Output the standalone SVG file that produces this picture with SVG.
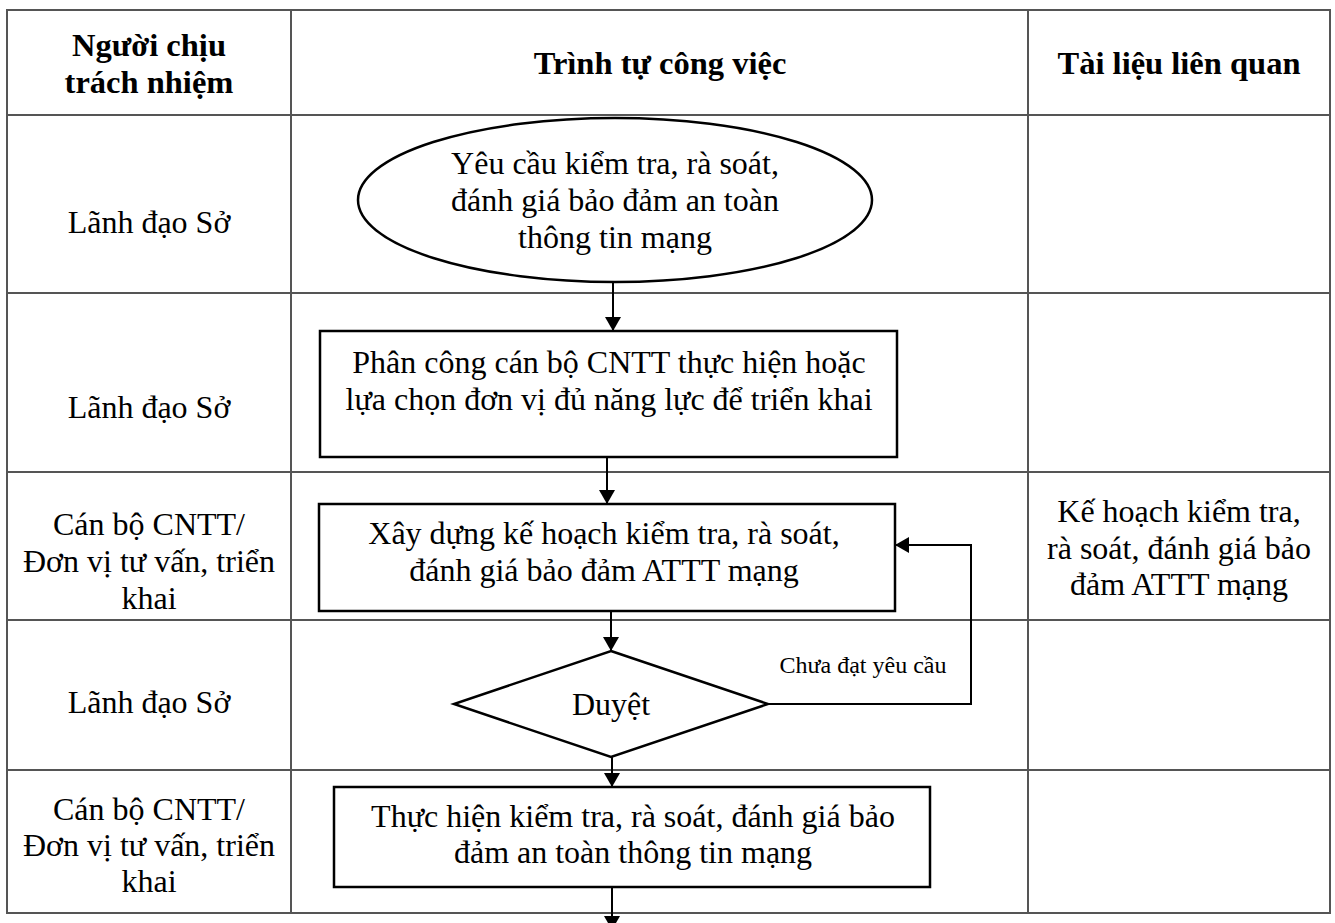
<svg xmlns="http://www.w3.org/2000/svg" width="1335" height="923" viewBox="0 0 1335 923">
<defs>
<style>
.grid{stroke:#555;stroke-width:2;fill:none}
.shape{stroke:#000;stroke-width:2.5;fill:#fff}
.conn{stroke:#000;stroke-width:2;fill:none}
text{font-family:"Liberation Serif","Times New Roman",serif;fill:#000;text-anchor:middle}
.t{font-size:32px}
.h{font-size:32.5px;font-weight:bold}
.s{font-size:24px}
</style>
<marker id="arr" markerUnits="userSpaceOnUse" markerWidth="16" markerHeight="16" refX="14" refY="8" orient="auto">
<path d="M0,0 L14,8 L0,16 Z" fill="#000"/>
</marker>
</defs>
<rect width="1335" height="923" fill="#fff"/>
<g id="table">
<rect class="grid" x="7" y="10" width="1323" height="903"/>
<line class="grid" x1="291" y1="10" x2="291" y2="913"/>
<line class="grid" x1="1028" y1="10" x2="1028" y2="913"/>
<line class="grid" x1="7" y1="115" x2="1330" y2="115"/>
<line class="grid" x1="7" y1="293" x2="1330" y2="293"/>
<line class="grid" x1="7" y1="472" x2="1330" y2="472"/>
<line class="grid" x1="7" y1="620" x2="1330" y2="620"/>
<line class="grid" x1="7" y1="770" x2="1330" y2="770"/>
</g>
<g id="headers">
<text class="h" x="149" y="56">Người chịu</text>
<text class="h" x="149" y="93">trách nhiệm</text>
<text class="h" x="660" y="74">Trình tự công việc</text>
<text class="h" x="1179" y="74">Tài liệu liên quan</text>
</g>
<g id="roles">
<text class="t" x="149" y="233">Lãnh đạo Sở</text>
<text class="t" x="149" y="418">Lãnh đạo Sở</text>
<text class="t" x="149" y="535">Cán bộ CNTT/</text>
<text class="t" x="149" y="572">Đơn vị tư vấn, triển</text>
<text class="t" x="149" y="609">khai</text>
<text class="t" x="149" y="713">Lãnh đạo Sở</text>
<text class="t" x="149" y="820">Cán bộ CNTT/</text>
<text class="t" x="149" y="856">Đơn vị tư vấn, triển</text>
<text class="t" x="149" y="892">khai</text>
</g>
<g id="docs">
<text class="t" x="1179" y="522">Kế hoạch kiểm tra,</text>
<text class="t" x="1179" y="559">rà soát, đánh giá bảo</text>
<text class="t" x="1179" y="595">đảm ATTT mạng</text>
</g>
<g id="connectors">
<line class="conn" x1="613" y1="282" x2="613" y2="331" marker-end="url(#arr)"/>
<line class="conn" x1="607" y1="457" x2="607" y2="504" marker-end="url(#arr)"/>
<line class="conn" x1="611" y1="611" x2="611" y2="651" marker-end="url(#arr)"/>
<polyline class="conn" points="768,704 971,704 971,545 895,545" marker-end="url(#arr)"/>
<line class="conn" x1="612" y1="757" x2="612" y2="787" marker-end="url(#arr)"/>
<line class="conn" x1="612" y1="887" x2="612" y2="930" marker-end="url(#arr)"/>
<text class="s" x="863" y="673">Chưa đạt yêu cầu</text>
</g>
<g id="n1">
<ellipse class="shape" cx="615" cy="200" rx="257" ry="82"/>
<text class="t" x="615" y="174">Yêu cầu kiểm tra, rà soát,</text>
<text class="t" x="615" y="211">đánh giá bảo đảm an toàn</text>
<text class="t" x="615" y="248">thông tin mạng</text>
</g>
<g id="n2">
<rect class="shape" x="320" y="331" width="577" height="126"/>
<text class="t" x="609" y="373">Phân công cán bộ CNTT thực hiện hoặc</text>
<text class="t" x="609" y="410">lựa chọn đơn vị đủ năng lực để triển khai</text>
</g>
<g id="n3">
<rect class="shape" x="319" y="504" width="576" height="107"/>
<text class="t" x="604" y="544">Xây dựng kế hoạch kiểm tra, rà soát,</text>
<text class="t" x="604" y="581">đánh giá bảo đảm ATTT mạng</text>
</g>
<g id="n4">
<polygon class="shape" points="611,651 768,704 611,757 454,704"/>
<text class="t" x="611" y="715">Duyệt</text>
</g>
<g id="n5">
<rect class="shape" x="334" y="787" width="596" height="100"/>
<text class="t" x="633" y="827">Thực hiện kiểm tra, rà soát, đánh giá bảo</text>
<text class="t" x="633" y="863">đảm an toàn thông tin mạng</text>
</g>
</svg>
